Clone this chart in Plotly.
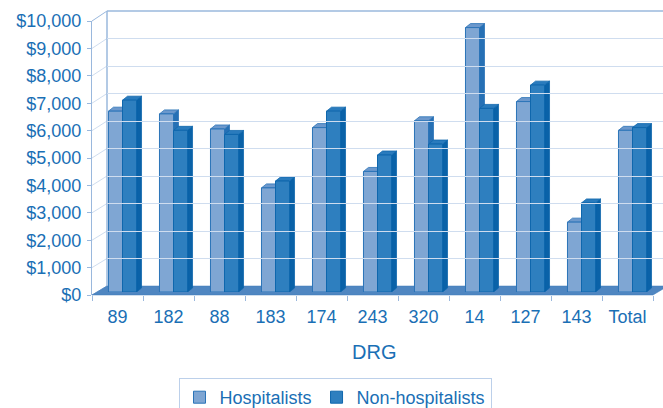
import plotly.graph_objects as go

# ---------------- data ----------------
categories = ["89", "182", "88", "183", "174", "243", "320", "14", "127", "143", "Total"]
hospitalists = [6600, 6500, 5950, 3800, 6000, 4400, 6250, 9650, 6950, 2550, 5900]
non_hospitalists = [7000, 5900, 5750, 4050, 6600, 5000, 5400, 6700, 7550, 3250, 6000]
y_ticks = [0, 1000, 2000, 3000, 4000, 5000, 6000, 7000, 8000, 9000, 10000]
y_ticktext = ["$" + format(v, ",d") for v in y_ticks]

# ---------------- style ----------------
W_FIG, H_FIG = 663, 408
L, R, T, B = 92, 0, 11, 113
PW = W_FIG - L - R
PH = H_FIG - T - B
CAT_PX = 51.0
TXT = "#1a6fb5"
FONT = "Liberation Sans, Arial, sans-serif"
GRID = "#cfddef"
WALL = "#9ab8dd"
FLOOR = "#4f86c1"
H_FRONT, H_EDGE, H_TOP, H_SIDE = "#7fa6d3", "#2b74b8", "#6c98cc", "#2670b5"
N_FRONT, N_EDGE, N_TOP, N_SIDE = "#2e7fbf", "#0f67ad", "#2a7bbd", "#0a62a8"
BARGAP = 0.45
DX_PX, DY_PX = 5.0, 4.0

n = len(categories)
idx = list(range(n))
xr = [-0.5, n - 0.5]

# domains (paper fractions) for front plane, bar plane and back wall
xd_front = [0, (n * CAT_PX) / PW]
yd_front = [0, 274 / PH]
xd_bar = [5 / PW, (5 + n * CAT_PX) / PW]
yd_bar = [3 / PH, 277 / PH]
xd_back = [15 / PW, 1]
yd_back = [9 / PH, 1]

fig = go.Figure()
fig.add_trace(go.Bar(x=idx, y=hospitalists, name="Hospitalists", xaxis="x2", yaxis="y2",
                     marker=dict(color=H_FRONT, line=dict(color=H_EDGE, width=1))))
fig.add_trace(go.Bar(x=idx, y=non_hospitalists, name="Non-hospitalists", xaxis="x2", yaxis="y2",
                     marker=dict(color=N_FRONT, line=dict(color=N_EDGE, width=1))))
# empty helpers so that the front and back-wall axes get drawn
fig.add_trace(go.Scatter(x=[], y=[], xaxis="x", yaxis="y", showlegend=False, hoverinfo="skip"))
fig.add_trace(go.Scatter(x=[], y=[], xaxis="x3", yaxis="y3", showlegend=False, hoverinfo="skip"))

shapes = []

def py_front(v):
    return yd_front[0] + v / 10000 * (yd_front[1] - yd_front[0])

def py_back(v):
    return yd_back[0] + v / 10000 * (yd_back[1] - yd_back[0])

# left wall lines
for v in y_ticks:
    shapes.append(dict(type="line", xref="paper", yref="paper", x0=0, x1=xd_back[0],
                       y0=py_front(v), y1=py_back(v), line=dict(color=GRID if 0 < v < 10000 else WALL, width=1),
                       layer="below"))
shapes.append(dict(type="line", xref="paper", yref="paper", x0=xd_back[0], x1=xd_back[0],
                   y0=yd_back[0], y1=yd_back[1], line=dict(color=WALL, width=1.5), layer="below"))
shapes.append(dict(type="line", xref="paper", yref="paper", x0=xd_back[0], x1=1.02,
                   y0=yd_back[1], y1=yd_back[1], line=dict(color=WALL, width=1.5), layer="below"))

# floor
fx1 = (n * CAT_PX) / PW
shapes.append(dict(type="path", xref="paper", yref="paper",
                   path=f"M 0,{py_front(0)} L {fx1},{py_front(0)} L {fx1 + xd_back[0]},{py_back(0)} L {xd_back[0]},{py_back(0)} Z",
                   fillcolor=FLOOR, line=dict(color="#3f79b8", width=0.5), layer="between"))

# 3-D faces of bars
bw = (1 - BARGAP) / 2
dx = DX_PX / CAT_PX
dy = DY_PX / 274 * 10000
for i in idx:
    for (v, left, top_c, side_c, edge) in [
        (hospitalists[i], i - bw, H_TOP, H_SIDE, H_EDGE),
        (non_hospitalists[i], i, N_TOP, N_SIDE, N_EDGE),
    ]:
        right = left + bw
        shapes.append(dict(type="path", xref="x2", yref="y2",
                           path=f"M {right},0 L {right},{v} L {right + dx},{v + dy} L {right + dx},{dy} Z",
                           fillcolor=side_c, line=dict(color=edge, width=0.8), layer="between"))
        shapes.append(dict(type="path", xref="x2", yref="y2",
                           path=f"M {left},{v} L {right},{v} L {right + dx},{v + dy} L {left + dx},{v + dy} Z",
                           fillcolor=top_c, line=dict(color=edge, width=0.8), layer="between"))

fig.update_layout(
    width=W_FIG, height=H_FIG,
    margin=dict(l=L, r=R, t=T, b=B, pad=0, autoexpand=False),
    paper_bgcolor="white", plot_bgcolor="rgba(0,0,0,0)",
    font=dict(family=FONT, size=18, color=TXT),
    barmode="group", bargap=BARGAP, bargroupgap=0,
    shapes=shapes,
    xaxis=dict(domain=xd_front, range=xr, anchor="y", tickvals=idx, ticktext=categories,
               ticks="", showgrid=False, zeroline=False, showline=False,
               ticklabelstandoff=9, automargin=False,
               tickfont=dict(size=18, color=TXT),
               minor=dict(tickvals=[i - 0.5 for i in range(n + 1)], ticks="outside", ticklen=5,
                          tickcolor=WALL, showgrid=False)),
    yaxis=dict(domain=yd_front, range=[0, 10000], anchor="x", tickvals=y_ticks, ticktext=y_ticktext,
               ticks="outside", ticklen=4, tickcolor=WALL, showgrid=False, zeroline=False,
               showline=True, linecolor=WALL, linewidth=1, ticklabelstandoff=2, automargin=False,
               tickfont=dict(size=18, color=TXT)),
    xaxis2=dict(domain=xd_bar, range=xr, anchor="y2", visible=False, showgrid=False),
    yaxis2=dict(domain=yd_bar, range=[0, 10000], anchor="x2", visible=False, showgrid=False),
    xaxis3=dict(domain=xd_back, range=xr, anchor="y3", showgrid=False, zeroline=False,
                showticklabels=False, ticks="", showline=False),
    yaxis3=dict(domain=yd_back, range=[0, 10000], anchor="x3", dtick=1000, showgrid=True,
                gridcolor=GRID, gridwidth=1, zeroline=False, showticklabels=False, ticks="",
                showline=False),
    legend=dict(orientation="h", x=(335 - L) / PW, xanchor="center",
                yref="container", y=(H_FIG - 378) / H_FIG, yanchor="top",
                bordercolor="#bcd0ea", borderwidth=1, bgcolor="white",
                font=dict(size=18, color=TXT), itemwidth=30, traceorder="normal",
                tracegroupgap=0),
    annotations=[dict(text="DRG", xref="paper", yref="paper", x=(374 - L) / PW,
                      y=-(352 - (H_FIG - B)) / PH, showarrow=False, xanchor="center", yanchor="middle",
                      font=dict(size=20, color=TXT))],
    showlegend=True,
)

fig.write_html("out.html")
